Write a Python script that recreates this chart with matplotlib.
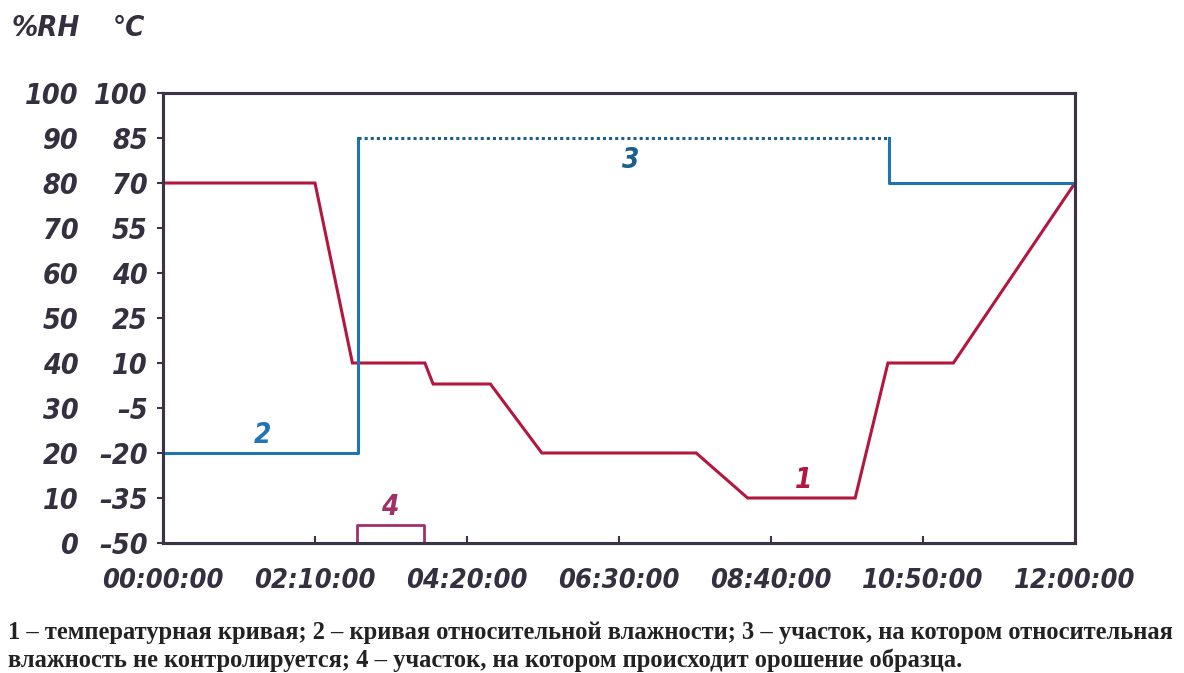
import matplotlib
matplotlib.use("Agg")
import matplotlib.pyplot as plt

# ---- data ----
x_ticks_min = [0, 130, 260, 390, 520, 650, 780]
x_tick_labels = ["00:00:00", "02:10:00", "04:20:00", "06:30:00", "08:40:00", "10:50:00", "12:00:00"]

temp_ticks = [-50, -35, -20, -5, 10, 25, 40, 55, 70, 85, 100]
rh_ticks = [0, 10, 20, 30, 40, 50, 60, 70, 80, 90, 100]

# curve 1: temperature (°C)
temp_t = [0, 130, 162, 224, 231, 280, 324, 456, 500, 592, 620, 676, 780]
temp_v = [70, 70, 10, 10, 3, 3, -20, -20, -35, -35, 10, 10, 70]

# curve 2: relative humidity (%RH), controlled parts
rh1_t = [0, 167, 167]
rh1_v = [20, 20, 90]
# section 3: RH not controlled
rh3_t = [167, 621]
rh3_v = [90, 90]
rh2_t = [621, 621, 780]
rh2_v = [90, 80, 80]

# section 4: sprinkling of the sample
spray_t = [166, 166, 223, 223]
spray_v = [0, 4, 4, 0]

caption1 = "1 – температурная кривая; 2 – кривая относительной влажности; 3 – участок, на котором относительная"
caption2 = "влажность не контролируется; 4 – участок, на котором происходит орошение образца."

# ---- styles ----
RED = "#b3173f"
BLUE = "#1f74b5"
DBLUE = "#1c5f8e"
PURPLE = "#a0306a"
FRAME = "#3b3346"
TXT = "#35303f"

W, H = 1184, 673
fig = plt.figure(figsize=(W / 100, H / 100), dpi=100)
L, R, T, B = 163, 1075, 93, 543
ax = fig.add_axes([L / W, (H - B) / H, (R - L) / W, (B - T) / H])
ax2 = ax.twinx()

ax.plot(temp_t, temp_v, color=RED, lw=2.2, solid_joinstyle="miter")
ax2.plot(rh1_t, rh1_v, color=BLUE, lw=2.2)
ax2.plot(rh3_t, rh3_v, color=DBLUE, lw=2.2, linestyle=(0, (1, 1)))
ax2.plot(rh2_t, rh2_v, color=BLUE, lw=2.2)
ax2.plot(spray_t, spray_v, color=PURPLE, lw=2.0)

ax.set_xlim(x_ticks_min[0], x_ticks_min[-1])
ax.set_ylim(-50, 100)
ax2.set_ylim(0, 100)

ax.set_xticks(x_ticks_min)
ax.set_xticklabels(x_tick_labels)
ax.set_yticks(temp_ticks)
ax.set_yticklabels([str(v).replace("-", "–") for v in temp_ticks])
ax2.yaxis.set_ticks_position("left")
ax2.set_yticks(rh_ticks)
ax2.set_yticklabels([str(v) for v in rh_ticks])

FONT = dict(family="DejaVu Sans", style="oblique", weight="bold", stretch="condensed")


def style(labels, size):
    for lab in labels:
        lab.set_fontfamily(FONT["family"])
        lab.set_fontstyle(FONT["style"])
        lab.set_fontweight(FONT["weight"])
        lab.set_fontstretch(FONT["stretch"])
        lab.set_fontsize(size)
        lab.set_color(TXT)


style(ax.get_xticklabels(), 19.5)
style(ax.get_yticklabels(), 20.5)
for t in ax2.yaxis.get_major_ticks():
    style([t.label1, t.label2], 20.5)

ax.tick_params(axis="x", direction="in", length=5, width=1.5, color=FRAME, pad=18)
ax.tick_params(axis="y", direction="out", length=4, width=1.5, color=FRAME, pad=7)
ax2.tick_params(axis="y", length=0, pad=61)

for a in (ax, ax2):
    for s in a.spines.values():
        s.set_color(FRAME)
        s.set_linewidth(2.2)

# curve labels
lab = dict(fontsize=20, ha="center", va="center", **FONT)
ax2.text(85, 24, "2", color=BLUE, **lab)
ax2.text(400, 85, "3", color=DBLUE, **lab)
ax2.text(548, 14, "1", color=RED, **lab)
ax2.text(194, 8, "4", color=PURPLE, **lab)

# axis titles
fig.text(80 / W, 1 - 28 / H, "%RH", ha="right", va="center", color=TXT, fontsize=21, **FONT)
fig.text(145 / W, 1 - 28 / H, "°C", ha="right", va="center", color=TXT, fontsize=21, **FONT)

# caption
cap = dict(family="Liberation Serif", weight="bold", color="#222222", ha="left", va="center")
t1 = fig.text(8 / W, 1 - 632 / H, caption1, fontsize=14, **cap)
t2 = fig.text(8 / W, 1 - 660 / H, caption2, fontsize=14, **cap)
fig.canvas.draw()
r = fig.canvas.get_renderer()
w1 = t1.get_window_extent(r).width
scale = (1180 - 8) / w1
t1.set_fontsize(14 * scale)
t2.set_fontsize(14 * scale)

fig.savefig("out.png", dpi=100, facecolor="white")
